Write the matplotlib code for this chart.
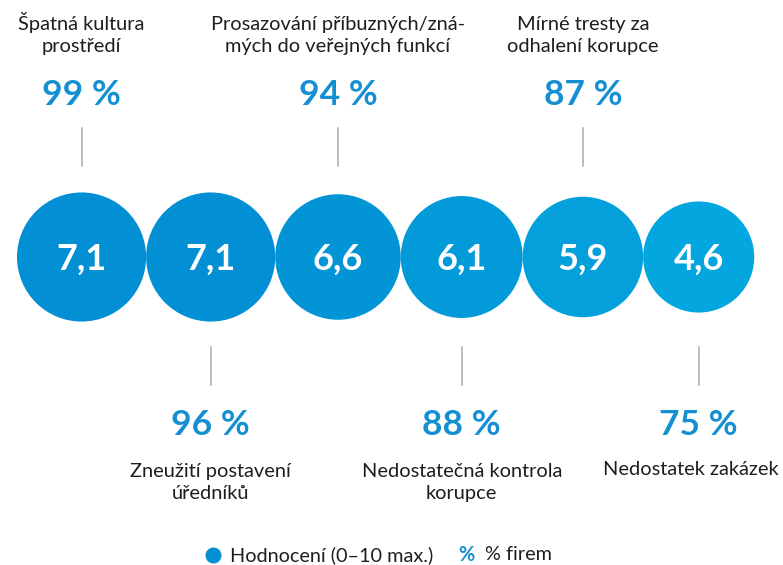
import matplotlib.pyplot as plt
from matplotlib.patches import Circle

# hodnoceni (0-10) a % firem
hodnoceni = [7.1, 7.1, 6.6, 6.1, 5.9, 4.6]
procenta = [99, 96, 94, 88, 87, 75]
popisky = ['Špatná kultura\nprostředí',
           'Zneužití postavení\núředníků',
           'Prosazování příbuzných/zná-\nmých do veřejných funkcí',
           'Nedostatečná kontrola\nkorupce',
           'Mírné tresty za\nodhalení korupce',
           'Nedostatek zakázek']
barvy = ['#038fd4', '#038fd4', '#0394d6', '#039ad9', '#03a0dc', '#03a6df']

plt.rcParams['font.family'] = ['Lato', 'DejaVu Sans']
modra = '#1490d2'
seda = '#aaaaaa'
txt = '#1e1e1e'

fig = plt.figure(figsize=(7.83, 5.65), dpi=100)
ax = fig.add_axes([0, 0, 1, 1])
ax.set_xlim(0, 783)
ax.set_ylim(565, 0)
ax.set_aspect('equal')
ax.axis('off')

cy = 257
x = 17
for i, v in enumerate(hodnoceni):
    r = 39 + 3.6 * v
    cx = x + r
    x = cx + r
    ax.add_patch(Circle((cx, cy), r, color=barvy[i], lw=0))
    ax.text(cx, cy + 2, f'{v:.1f}'.replace('.', ','), color='white',
            fontsize=26, fontweight='bold', ha='center', va='center')
    lx = min(max(cx, 75), 691)
    radky = popisky[i].count('\n')
    if i % 2 == 0:
        ax.plot([cx, cx], [128, 166], color=seda, lw=1.1)
        ax.text(cx, 95, f'{procenta[i]} %', color=modra, fontsize=25.5,
                fontweight='bold', ha='center', va='center')
        ax.text(lx, 52, popisky[i], color=txt, fontsize=14.4,
                ha='center', va='baseline', linespacing=1.37)
    else:
        ax.plot([cx, cx], [347, 385], color=seda, lw=1.1)
        ax.text(cx, 425, f'{procenta[i]} %', color=modra, fontsize=25.5,
                fontweight='bold', ha='center', va='center')
        ax.text(lx, 475 + 24 * radky, popisky[i], color=txt, fontsize=14.4,
                ha='center', va='baseline', linespacing=1.37)

# legenda
ax.plot(213, 555, 'o', color='#038fd4', ms=10.5)
ax.text(230, 555, 'Hodnocení (0–10 max.)', fontsize=14.3, color=txt,
        ha='left', va='center')
ax.text(466, 555, '%', fontsize=14.3, color=modra, fontweight='bold',
        ha='center', va='center')
ax.text(485, 555, '% firem', fontsize=14.3, color=txt,
        ha='left', va='center')

fig.savefig('out.png', dpi=100)
